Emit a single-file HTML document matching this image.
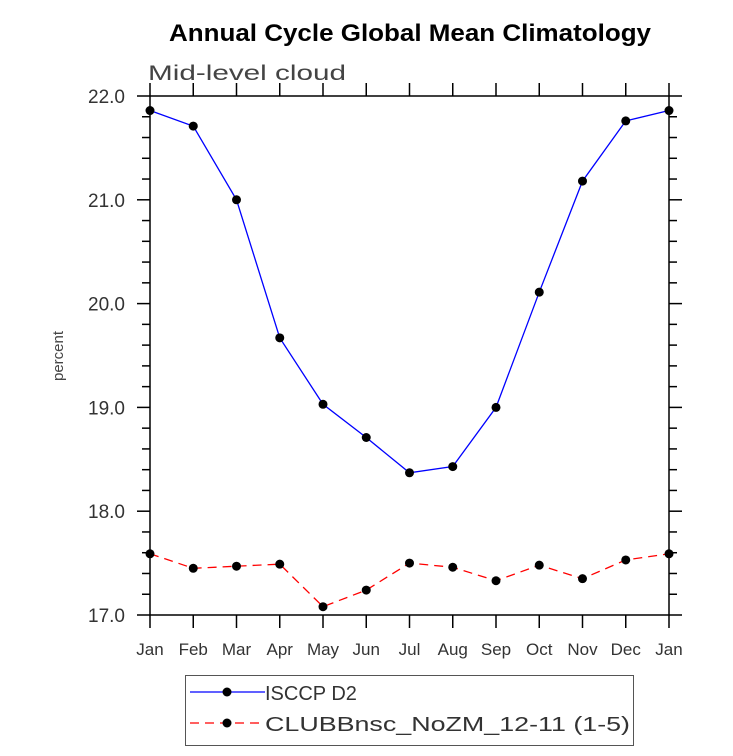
<!DOCTYPE html>
<html><head><meta charset="utf-8"><style>
body{margin:0;background:#fff}
text{font-family:"Liberation Sans",sans-serif}
</style></head><body>
<svg id="chart" width="733" height="751" xmlns="http://www.w3.org/2000/svg">
<text x="410" y="41" text-anchor="middle" font-size="24" font-weight="bold" textLength="482" lengthAdjust="spacingAndGlyphs">Annual Cycle Global Mean Climatology</text>
<text x="148" y="80" font-size="21" fill="#444" textLength="198" lengthAdjust="spacingAndGlyphs">Mid-level cloud</text>
<text transform="translate(63,356) rotate(-90)" text-anchor="middle" font-size="15" fill="#444">percent</text>
<g id="axes"></g>
<g id="series"></g>
<g>
<rect x="185.5" y="675.5" width="448" height="70" fill="none" stroke="#555" stroke-width="1"/>
<line x1="190" y1="692" x2="265" y2="692" stroke="#0000ff" stroke-width="1.3"/>
<circle cx="227" cy="692" r="4.5" fill="#000"/>
<text x="265" y="700" font-size="20" fill="#333">ISCCP D2</text>
<line x1="190" y1="723" x2="265" y2="723" stroke="#ff0000" stroke-width="1.3" stroke-dasharray="9,6"/>
<circle cx="227" cy="723" r="4.5" fill="#000"/>
<text x="265" y="731" font-size="20" fill="#333" textLength="365" lengthAdjust="spacingAndGlyphs">CLUBBnsc_NoZM_12-11 (1-5)</text>
</g>
</svg>
<script>
const months = ["Jan","Feb","Mar","Apr","May","Jun","Jul","Aug","Sep","Oct","Nov","Dec","Jan"];
const isccp = [21.86,21.71,21.0,19.67,19.03,18.71,18.37,18.43,19.0,20.11,21.18,21.76,21.86];
const clubb = [17.59,17.45,17.47,17.49,17.08,17.24,17.50,17.46,17.33,17.48,17.35,17.53,17.59];
const yTicks = ["17.0","18.0","19.0","20.0","21.0","22.0"];
const NS="http://www.w3.org/2000/svg";
const X0=150,X1=669,Y0=615,Y1=96,YMIN=17,YMAX=22;
const xs=i=>X0+i*(X1-X0)/(months.length-1);
const ys=v=>Y0-(v-YMIN)*(Y0-Y1)/(YMAX-YMIN);
function mk(tag,attrs,parent){const e=document.createElementNS(NS,tag);for(const k in attrs)e.setAttribute(k,attrs[k]);parent.appendChild(e);return e;}
const ax=document.getElementById('axes');
mk('rect',{x:X0,y:Y1,width:X1-X0,height:Y0-Y1,fill:'none',stroke:'#000','stroke-width':1.5},ax);
months.forEach((m,i)=>{
  const x=xs(i);
  mk('line',{x1:x,y1:Y0,x2:x,y2:Y0+13,stroke:'#000','stroke-width':1.5},ax);
  mk('line',{x1:x,y1:Y1,x2:x,y2:Y1-13,stroke:'#000','stroke-width':1.5},ax);
  const t=mk('text',{x:x,y:655,'text-anchor':'middle','font-size':17,fill:'#333'},ax);
  t.textContent=m;
  
  
});
for(let v=YMIN;v<=YMAX+1e-9;v+=0.2){
  const y=ys(v);const major=Math.abs(v-Math.round(v))<1e-6;
  const L=major?13:8;
  mk('line',{x1:X0-L,y1:y,x2:X0,y2:y,stroke:'#000','stroke-width':1.5},ax);
  mk('line',{x1:X1,y1:y,x2:X1+L,y2:y,stroke:'#000','stroke-width':1.5},ax);
}
yTicks.forEach(s=>{
  const t=mk('text',{x:125,y:ys(parseFloat(s))+7,'text-anchor':'end','font-size':19,fill:'#333'},ax);
  t.textContent=s;
  
  
});
const sg=document.getElementById('series');
function series(vals,color,dash,name){
  const p=mk('polyline',{points:vals.map((v,i)=>xs(i)+','+ys(v)).join(' '),fill:'none',stroke:color,'stroke-width':1.3},sg);
  if(dash)p.setAttribute('stroke-dasharray',dash);
  
  
  vals.forEach((v,i)=>{
    const c=mk('circle',{cx:xs(i),cy:ys(v),r:4.5,fill:'#000'},sg);
    
    
  });
}
series(isccp,'#0000ff',null,'isccp');
series(clubb,'#ff0000','9,6','clubb');
</script>
</body></html>
